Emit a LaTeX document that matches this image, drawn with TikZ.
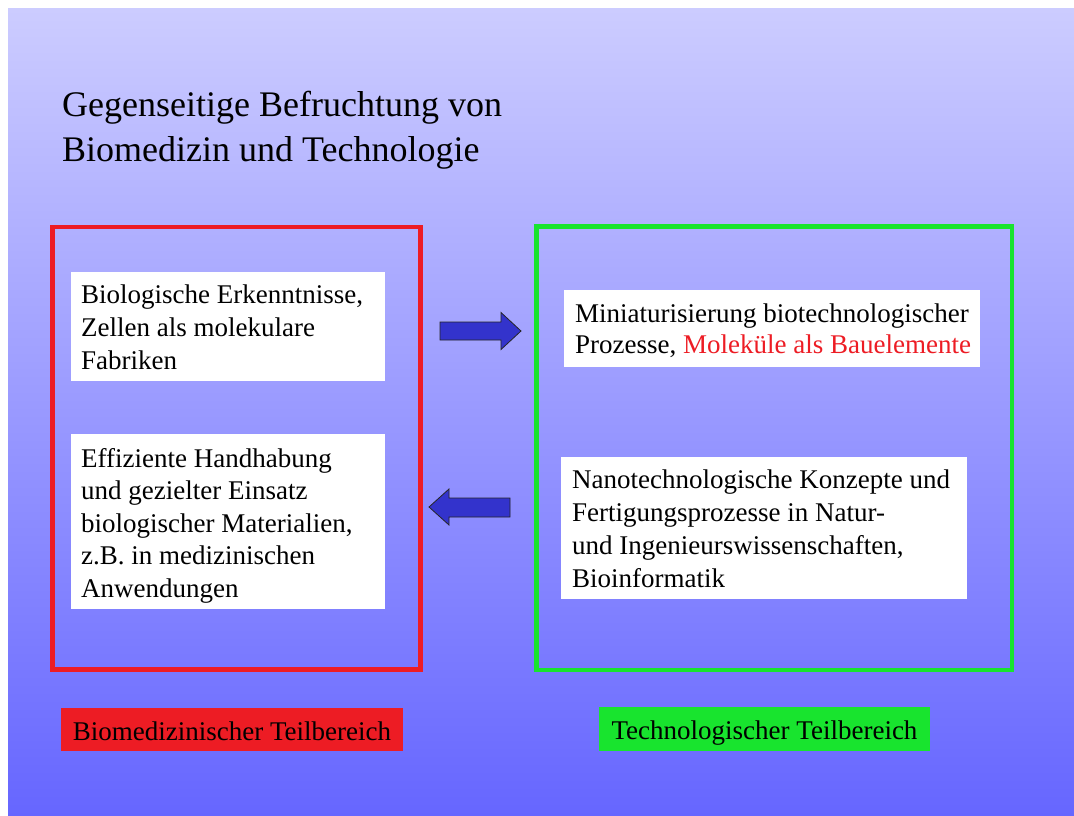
\documentclass[tikz,border=0pt]{standalone}
\usepackage{fontspec}
\setmainfont{Liberation Serif}
\definecolor{framered}{RGB}{237,28,36}
\definecolor{framegreen}{RGB}{24,228,46}
\definecolor{arrowblue}{RGB}{51,51,204}
\definecolor{bgtop}{RGB}{204,204,255}
\definecolor{bgbottom}{RGB}{102,102,255}
\newcommand\cardfont[1]{\fontsize{27}{#1}\selectfont}

\begin{document}
\begin{tikzpicture}[x=1pt,y=-1pt,
  panel/.style={draw=#1, line width=4.5pt, inner sep=0pt},
  card/.style={fill=white, inner sep=0pt},
  cardtext/.style={anchor=base west, inner sep=0pt},
  tag/.style={fill=#1, inner sep=0pt, text height=21pt, text depth=0pt,
    font=\cardfont{32}},
  blockarrow/.style={fill=arrowblue, draw=black!85, line width=0.8pt, line join=miter}]
\useasboundingbox (0,0) rectangle (1074,816);

% slide background
\shade[top color=bgtop, bottom color=bgbottom] (8,9) rectangle (1074,816);

% heading
\node[cardtext] (title) at (62,117)
  {\parbox[t]{600pt}{\fontsize{36}{45}\selectfont Gegenseitige Befruchtung von\\Biomedizin und Technologie}};

% the two areas
\node[panel=framered, minimum width=368pt, minimum height=442.5pt] (bio) at (236.5,448.25) {};
\node[panel=framegreen, minimum width=475.5pt, minimum height=443.5pt] (tech) at (774.25,448.25) {};

% white cards
\node[card, minimum width=314pt, minimum height=109pt] (c1) at (228,326.5) {};
\node[card, minimum width=314pt, minimum height=175pt] (c2) at (228,521.5) {};
\node[card, minimum width=416pt, minimum height=77pt] (c3) at (772,328.5) {};
\node[card, minimum width=406pt, minimum height=142pt] (c4) at (764,528) {};

\node[cardtext] (t1) at (81,303)
  {\parbox[t]{420pt}{\cardfont{33}Biologische Erkenntnisse,\\Zellen als molekulare\\Fabriken}};
\node[cardtext] (t2) at (81,467)
  {\parbox[t]{420pt}{\cardfont{32.5}Effiziente Handhabung\\und gezielter Einsatz\\biologischer Materialien,\\z.B. in medizinischen\\Anwendungen}};
\node[cardtext] (t3) at (575,322)
  {\parbox[t]{480pt}{\cardfont{31.6}Miniaturisierung biotechnologischer\\Prozesse, \textcolor{framered}{Moleküle als Bauelemente}}};
\node[cardtext] (t4) at (572,488)
  {\parbox[t]{480pt}{\cardfont{33}Nanotechnologische Konzepte und\\Fertigungsprozesse in Natur-\\und Ingenieurswissenschaften,\\Bioinformatik}};

% exchange arrows between the areas
\draw[blockarrow] (440,322) -- (501,322) -- (501,312.5) -- (521,331) -- (501,349.5)
  -- (501,340) -- (440,340) -- cycle;
\draw[blockarrow] (429,507) -- (449,489) -- (449,498) -- (510,498) -- (510,517)
  -- (449,517) -- (449,525) -- cycle;

% area captions
\node[tag=framered, minimum width=342pt, minimum height=43pt] (lbio) at (232,729.5)
  {Biomedizinischer Teilbereich};
\node[tag=framegreen, minimum width=331pt, minimum height=44pt] (ltech) at (764.5,729)
  {Technologischer Teilbereich};
\end{tikzpicture}
\end{document}
